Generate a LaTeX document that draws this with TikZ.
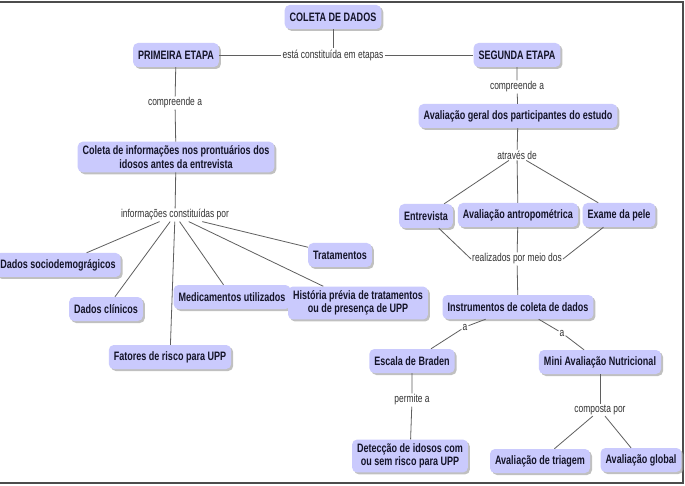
\documentclass[tikz,border=0pt]{standalone}
\usepackage{fontspec}
\setmainfont{Liberation Sans}[FakeStretch=0.74]
\usetikzlibrary{shadows}
\definecolor{boxfill}{RGB}{202,202,253}
\definecolor{boxtext}{RGB}{20,20,40}
\definecolor{linkcol}{RGB}{95,95,95}
\definecolor{labcol}{RGB}{50,50,50}
\tikzset{
  concept/.style={draw=none, fill=boxfill, rounded corners=5pt, font=\bfseries\fontsize{12.2}{13.5}\selectfont,
    text=boxtext, inner xsep=5pt, inner ysep=4pt, minimum height=24pt, align=center,
    drop shadow={shadow xshift=2pt, shadow yshift=-2pt, fill=black!35, opacity=0.7}},
  linklab/.style={font=\fontsize{11.4}{12.5}\selectfont, text=labcol, inner sep=1pt},
  conn/.style={draw=linkcol, line width=0.8pt}
}
\begin{document}
\begin{tikzpicture}[x=1pt,y=-1pt]
\useasboundingbox (0,0) rectangle (685,486);
\fill[white] (0,0) rectangle (685,486);
\draw[black!70, line width=1.3pt] (0,2) -- (683,2) -- (683,483) -- (0,483);

\node[concept] (c0) at (333,17) {COLETA DE DADOS};
\node[concept] (p1) at (176,55) {PRIMEIRA ETAPA};
\node[linklab] (l1) at (333,55) {está constituída em etapas};
\node[concept] (p2) at (517,55) {SEGUNDA ETAPA};
\node[linklab] (l2) at (175,103) {compreende a};
\node[concept] (n1) at (176,157) {Coleta de informações nos prontuários dos\\idosos antes da entrevista};
\node[linklab] (l3) at (517,87) {compreende a};
\node[concept] (n2) at (518,116) {Avaliação geral dos participantes do estudo};
\node[linklab] (l4) at (175,215) {informações constituídas por};
\node[concept] (a1) at (58,265) {Dados sociodemográgicos};
\node[concept] (a2) at (106,309) {Dados clínicos};
\node[concept] (a3) at (170,357) {Fatores de risco para UPP};
\node[concept] (a4) at (232,297) {Medicamentos utilizados};
\node[concept] (a5) at (358,303) {História prévia de tratamentos\\ou de presença de UPP};
\node[concept] (a6) at (340,255) {Tratamentos};
\node[linklab] (l5) at (517,155) {através de};
\node[concept] (b1) at (426,216) {Entrevista};
\node[concept] (b2) at (518,215) {Avaliação antropométrica};
\node[concept] (b3) at (619,215) {Exame da pele};
\node[linklab] (l6) at (517,259) {realizados por meio dos};
\node[concept] (n3) at (518,307) {Instrumentos de coleta de dados};
\node[linklab] (l7) at (465,327) {a};
\node[linklab] (l8) at (562,333) {a};
\node[concept] (n4) at (412,361) {Escala de Braden};
\node[concept] (n5) at (600,362) {Mini Avaliação Nutricional};
\node[linklab] (l9) at (412,400) {permite a};
\node[concept] (n6) at (410,456) {Detecção de idosos com\\ou sem risco para UPP};
\node[linklab] (l10) at (600,410) {composta por};
\node[concept] (n7) at (540,461) {Avaliação de triagem};
\node[concept] (n8) at (641,460) {Avaliação global};

\draw[conn] (c0) -- (l1);
\draw[conn] (p1) -- (l1) -- (p2);
\draw[conn] (p1) -- (l2) -- (n1);
\draw[conn] (p2) -- (l3) -- (n2);
\draw[conn] (n1) -- (l4);
\foreach \t in {a1,a2,a3,a4,a5,a6} \draw[conn] (l4) -- (\t);
\draw[conn] (n2) -- (l5);
\foreach \t in {b1,b2,b3} \draw[conn] (l5) -- (\t);
\draw[conn] (b1) -- (l6.west);
\draw[conn] (b2) -- (l6);
\draw[conn] (b3) -- (l6.east);
\draw[conn] (l6) -- (n3);
\draw[conn] (n3) -- (l7) -- (n4);
\draw[conn] (n3) -- (l8) -- (n5);
\draw[conn] (n4) -- (l9) -- (n6);
\draw[conn] (n5) -- (l10);
\draw[conn] (l10) -- (n7);
\draw[conn] (l10) -- (n8);
\end{tikzpicture}
\end{document}
